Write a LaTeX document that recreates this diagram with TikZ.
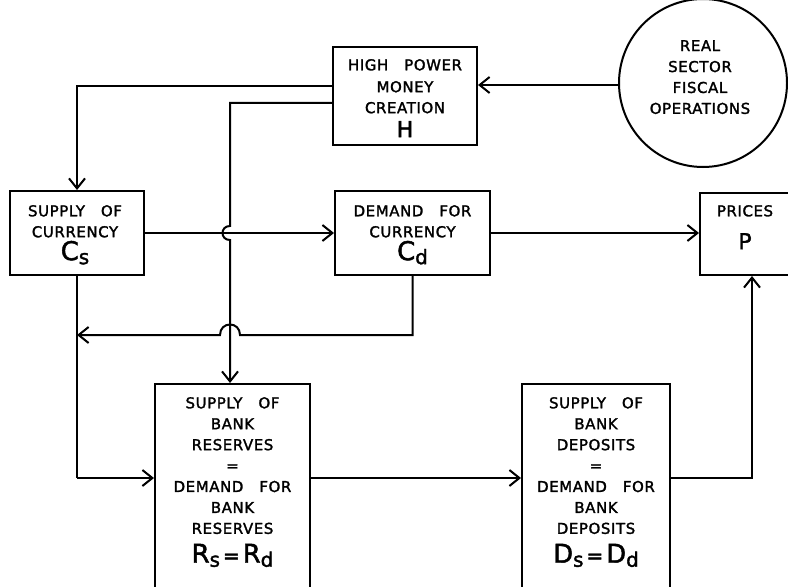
\documentclass[tikz,border=0pt]{standalone}
\usepackage{fontspec}
\setmainfont{DejaVu Sans}[LetterSpace=4,FakeBold=1.8]
\usetikzlibrary{arrows.meta}
\newcommand\bigsub[2]{{\fontsize{26}{26}\selectfont #1}\raisebox{-4bp}{\fontsize{20}{20}\selectfont #2}}
\newcommand\beq{\hspace{3bp}{\fontsize{20}{20}\selectfont =}\hspace{3bp}}
\newcommand\wgap{\hspace{16bp}}
\begin{document}
\begin{tikzpicture}[x=1bp,y=-1bp,
  box/.style={draw, line width=2bp, rectangle, inner sep=0pt},
  lbl/.style={align=center, inner sep=0pt, anchor=north, font=\fontsize{15}{21}\selectfont},
  wire/.style={line width=2bp},
  conn/.style={line width=2bp, -{Straight Barb[length=10bp,width=16bp]}}]
\useasboundingbox (0,0) rectangle (788,587);
% boxes
\node[box, minimum width=144bp, minimum height=98bp] (H) at (405,96) {};
\node[box, circle, minimum size=168bp] (R) at (703,83) {};
\node[box, minimum width=134bp, minimum height=84bp] (Cs) at (77,233) {};
\node[box, minimum width=155bp, minimum height=84bp] (Cd) at (412.5,233) {};
\node[box, minimum width=90bp, minimum height=82bp] (P) at (745,234) {};
\node[box, minimum width=155bp, minimum height=240bp, anchor=north] (Rb) at (232.5,383) {};
\node[box, minimum width=148bp, minimum height=240bp, anchor=north] (Db) at (596,383) {};
% texts
\node[lbl] (Ht) at (405,59) {HIGH\wgap POWER\\[1bp] MONEY\\ CREATION\\[3bp] {\fontsize{22}{22}\selectfont H}};
\node[lbl] (Rt) at (700,40) {REAL\\ SECTOR\\ FISCAL\\ OPERATIONS};
\node[lbl] (Cst) at (75,205) {SUPPLY\wgap OF\\ CURRENCY\\[2bp] \bigsub{C}{s}};
\node[lbl] (Cdt) at (412.5,205) {DEMAND\wgap FOR\\ CURRENCY\\[2bp] \bigsub{C}{d}};
\node[lbl] (Pt) at (745,205) {PRICES\\[12bp] {\fontsize{22}{22}\selectfont P}};
\node[lbl] (Rbt) at (232.5,397) {SUPPLY\wgap OF\\ BANK\\ RESERVES\\ =\\ DEMAND\wgap FOR\\ BANK\\ RESERVES\\[8bp] \bigsub{R}{s}\beq\bigsub{R}{d}};
\node[lbl] (Dbt) at (596,397) {SUPPLY\wgap OF\\ BANK\\ DEPOSITS\\ =\\ DEMAND\wgap FOR\\ BANK\\ DEPOSITS\\[8bp] \bigsub{D}{s}\beq\bigsub{D}{d}};
% connectors
\draw[conn] (R.west |- 0,85) -- (H.east |- 0,85);
\draw[conn] (H.west |- 0,86) -- (Cs.north |- 0,86) -- (Cs.north);
\draw[conn] (Cs.east) -- (Cd.west);
\draw[conn] (H.west |- 0,103) -- (230,103) -- (230,226)
   .. controls (220,226) and (220,240) .. (230,240) -- (Rb.north -| 230,0);
\draw[conn] (Cd.east) -- (P.west |- Cd.east);
\draw[conn] (Cd.south) -- (Cd.south |- 0,335) -- (240,335)
   .. controls (240,321) and (220,321) .. (220,335) -- (Cs.south |- 0,335);
\draw[wire] (Cs.south) -- (Cs.south |- 0,478);
\draw[conn] (Cs.south |- 0,478) -- (Rb.west |- 0,478);
\draw[conn] (Rb.east |- 0,478) -- (Db.west |- 0,478);
\draw[conn] (Db.east |- 0,478) -- (752,478) -- (P.south -| 752,0);
\end{tikzpicture}
\end{document}
